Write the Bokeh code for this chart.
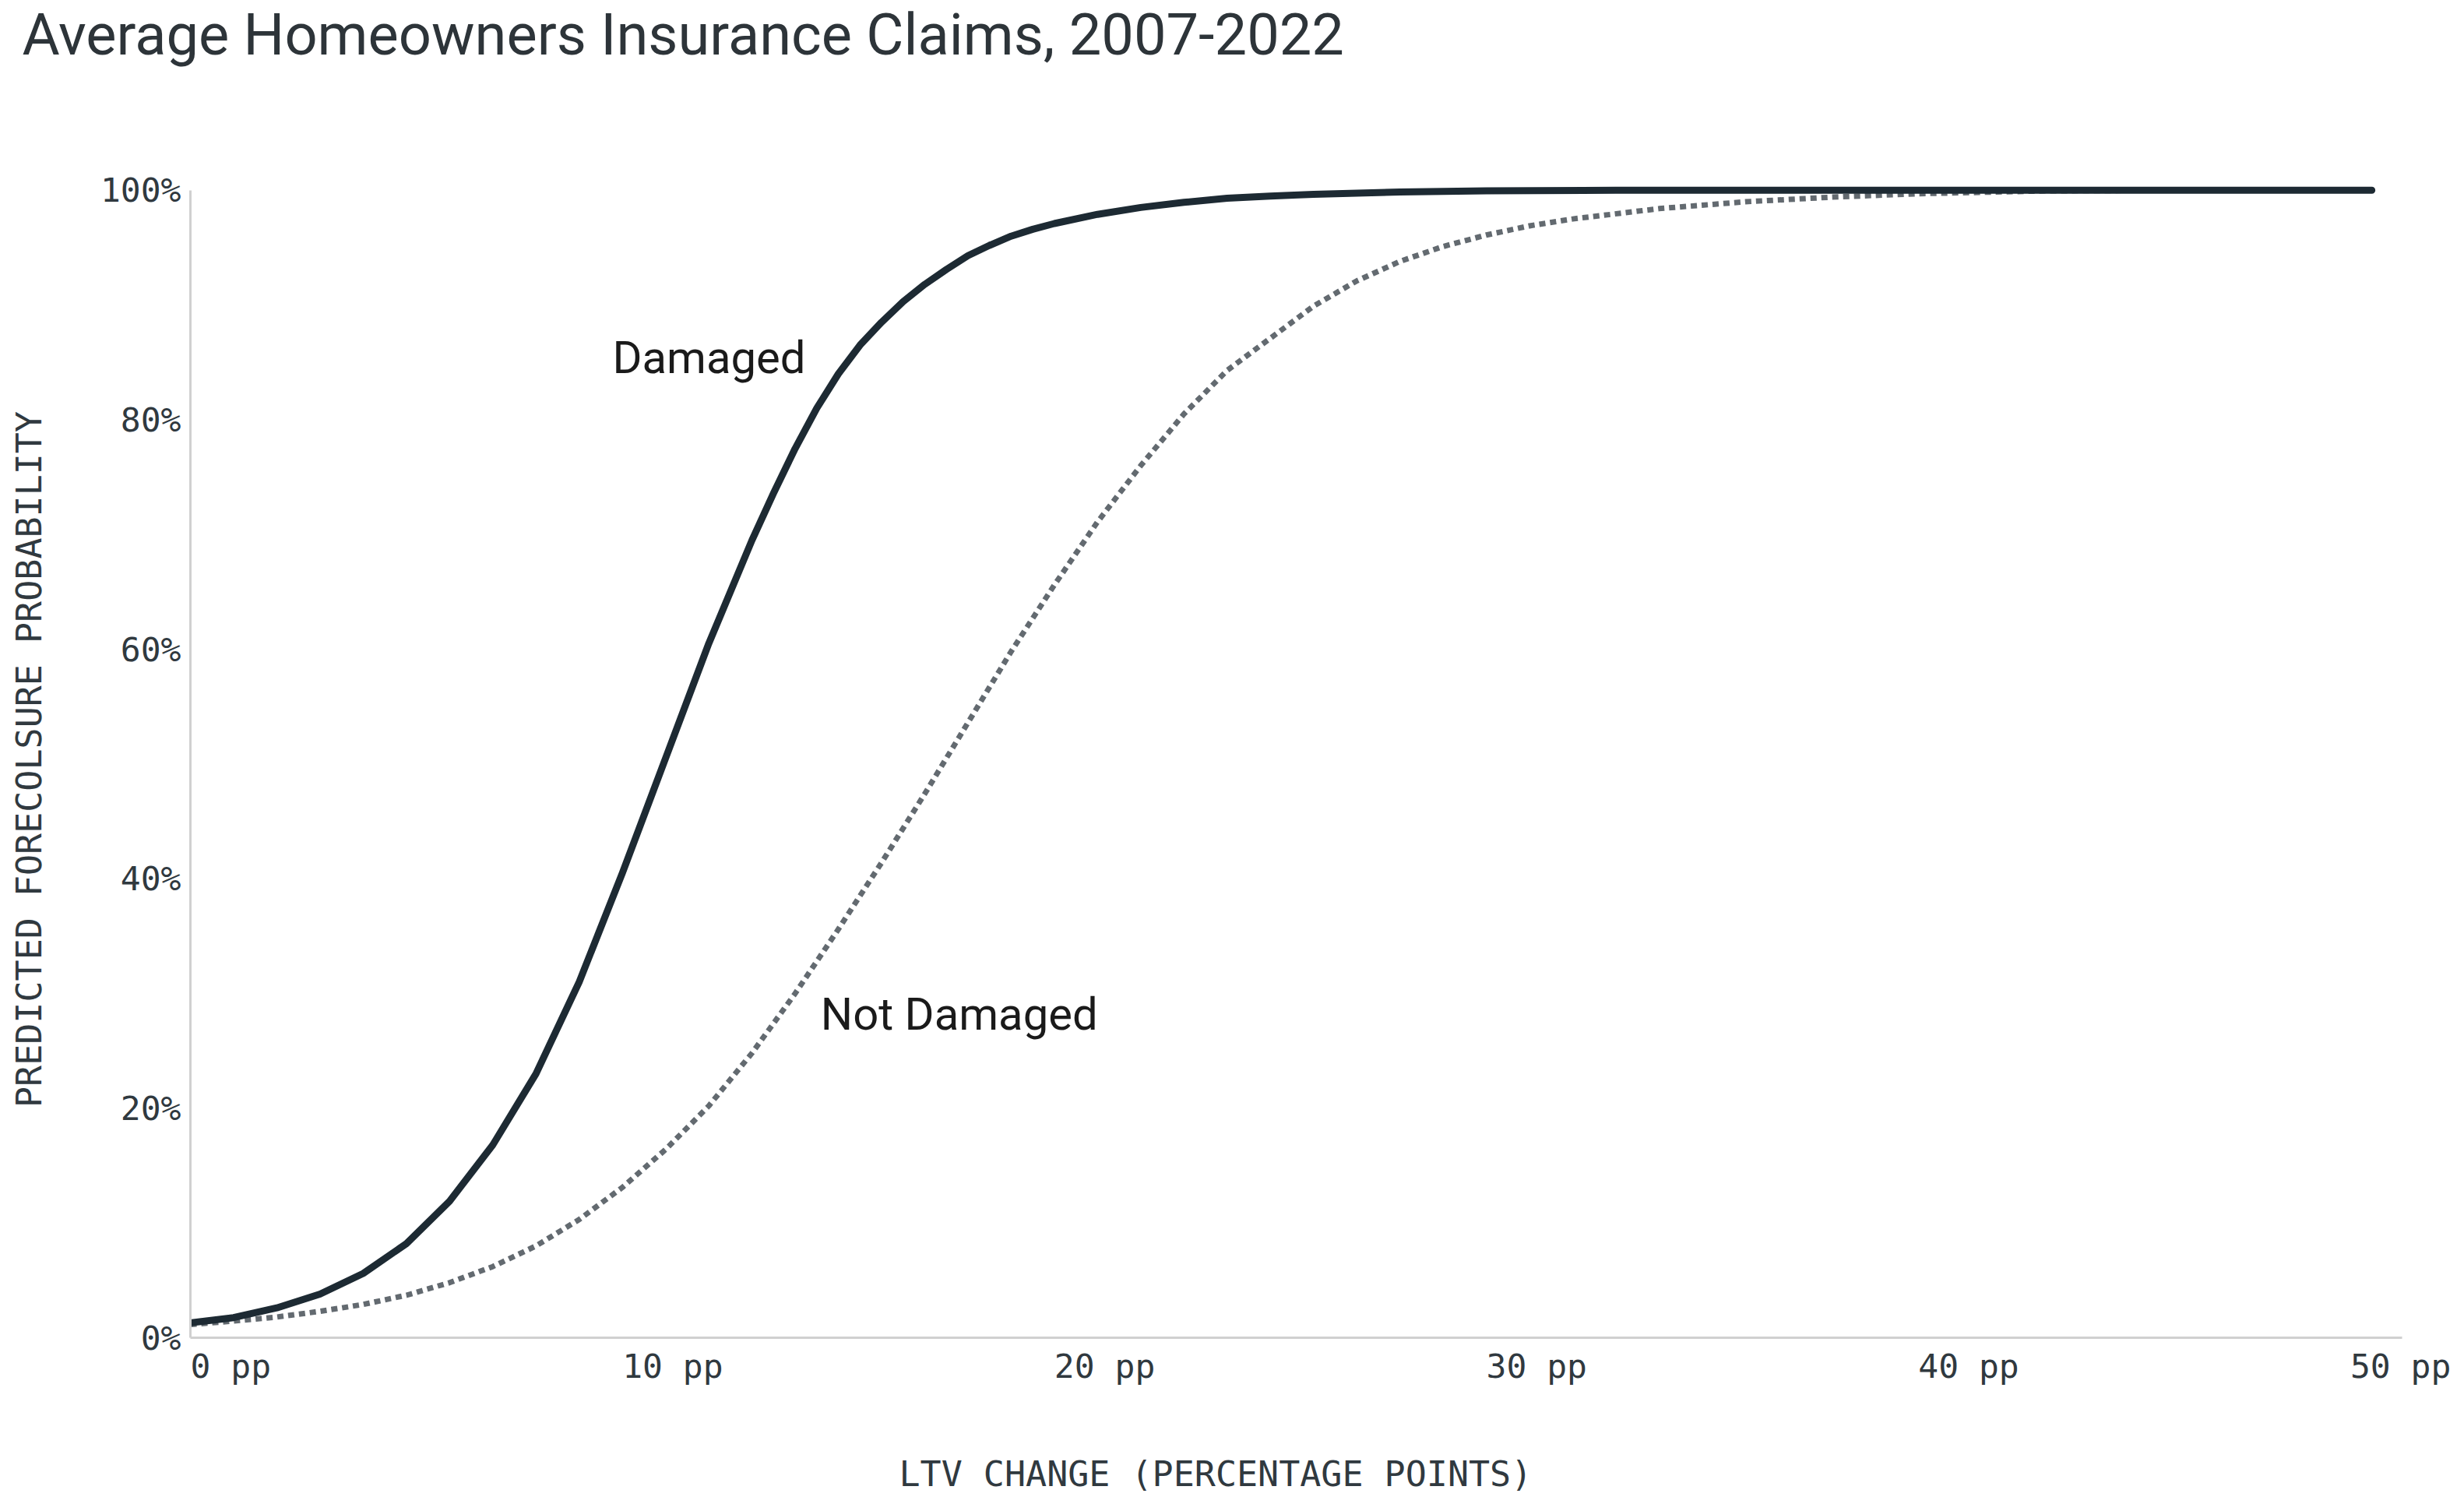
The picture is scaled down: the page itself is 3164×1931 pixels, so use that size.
from bokeh.plotting import figure
from bokeh.models import Range1d, Label, FixedTicker, CustomJSTickFormatter, Title
from bokeh.embed import file_html
from bokeh.resources import INLINE

TITLE = "Average Homeowners Insurance Claims, 2007-2022"
X_TITLE = "LTV CHANGE (PERCENTAGE POINTS)"
Y_TITLE = "PREDICTED FORECOLSURE PROBABILITY"

x_ticks = [0, 10, 20, 30, 40, 50]
y_ticks = [0, 20, 40, 60, 80, 100]

damaged_x = [0, 1, 2, 3, 4, 5, 6, 7, 8, 9, 10, 11, 12, 13, 13.5, 14, 14.5, 15, 15.5,
             16, 16.5, 17, 17.5, 18, 18.5, 19, 19.5, 20, 21, 22, 23, 24, 25, 26, 28,
             30, 33, 40, 50.5]
damaged_y = [1.3, 1.75, 2.6, 3.8, 5.6, 8.2, 11.9, 16.8, 23.0, 31.0, 40.5, 50.5, 60.5,
             69.5, 73.6, 77.5, 81.0, 84.0, 86.5, 88.5, 90.3, 91.8, 93.1, 94.3, 95.2,
             96.0, 96.6, 97.1, 97.9, 98.5, 98.95, 99.3, 99.5, 99.65, 99.85, 99.95, 100,
             100, 100]

not_damaged_x = [0, 1, 2, 3, 4, 5, 6, 7, 8, 9, 10, 11, 12, 13, 14, 15, 16, 17, 18, 19,
                 20, 21, 22, 23, 24, 25, 26, 27, 28, 29, 30, 31, 32, 34, 36, 38, 40,
                 43, 46, 50.5]
not_damaged_y = [1.15, 1.45, 1.8, 2.3, 2.9, 3.7, 4.8, 6.2, 8.0, 10.3, 13.1, 16.4, 20.2,
                 24.8, 30.0, 35.6, 41.4, 47.4, 53.6, 59.8, 65.6, 71.1, 76.0, 80.5, 84.3,
                 87.1, 89.9, 92.1, 93.8, 95.1, 96.1, 96.9, 97.5, 98.4, 99.0, 99.4, 99.7,
                 99.95, 100, 100]

W, H = 3148, 1925
p = figure(width=W, height=H, output_backend="svg", toolbar_location=None,
           x_range=Range1d(0, 51.2), y_range=Range1d(0, 100.8),
           min_border_left=244, min_border_right=64, min_border_top=0,
           min_border_bottom=208)
p.outline_line_color = None
p.background_fill_color = "white"
p.border_fill_color = "white"
p.xgrid.grid_line_color = None
p.ygrid.grid_line_color = None

mono = "DejaVu Sans Mono"
axis_col = "#d0d0d0"
text_col = "#30393f"

xa = p.xaxis[0]
xa.ticker = FixedTicker(ticks=x_ticks)
xa.formatter = CustomJSTickFormatter(
    code="const s = tick + ' pp'; return '\u00a0'.repeat(s.length) + s;")
xa.axis_line_color = axis_col
xa.axis_line_width = 3
xa.major_tick_line_color = None
xa.minor_tick_line_color = None
xa.major_tick_out = 0
xa.major_tick_in = 0
xa.minor_tick_out = 0
xa.major_label_text_font = mono
xa.major_label_text_font_size = "43px"
xa.major_label_text_color = text_col
xa.major_label_standoff = 11

ya = p.yaxis[0]
ya.ticker = FixedTicker(ticks=y_ticks)
ya.formatter = CustomJSTickFormatter(code="return tick + '%';")
ya.bounds = (0, 100)
ya.axis_line_color = axis_col
ya.axis_line_width = 3
ya.major_tick_line_color = None
ya.minor_tick_line_color = None
ya.major_tick_out = 0
ya.major_tick_in = 0
ya.minor_tick_out = 0
ya.major_label_text_font = mono
ya.major_label_text_font_size = "43px"
ya.major_label_text_color = text_col
ya.major_label_standoff = 12
ya.axis_label = Y_TITLE
ya.axis_label_text_font = mono
ya.axis_label_text_font_size = "45px"
ya.axis_label_text_font_style = "normal"
ya.axis_label_text_color = text_col
ya.axis_label_standoff = 62

# top stack: spacer (next to frame) then the chart title (outermost)
p.add_layout(Title(text="\u00a0", text_font_size="1px", standoff=140), "above")
p.add_layout(Title(text=TITLE, text_font="Roboto", text_font_size="74px",
                   text_font_style="normal", text_color="#2d3439",
                   align="left", offset=-216, vertical_align="top",
                   standoff=0), "above")

# bottom stack: axis, spacer, x-axis title
p.add_layout(Title(text="\u00a0", text_font_size="1px", standoff=88), "below")
p.add_layout(Title(text=X_TITLE, text_font=mono, text_font_size="45px",
                   text_font_style="normal", text_color=text_col,
                   align="left", offset=910, vertical_align="top",
                   standoff=-14), "below")

p.line(not_damaged_x, not_damaged_y, line_color="#636a70", line_width=7,
       line_dash="8 6", line_join="round")
p.line(damaged_x, damaged_y, line_color="#1d2a33", line_width=9, line_cap="round",
       line_join="round")

p.add_layout(Label(x=9.77, y=85.4, text="Damaged", text_font="Roboto",
                   text_font_size="58px", text_color="#1a1a1a",
                   text_baseline="middle", text_align="left"))
p.add_layout(Label(x=14.59, y=28.2, text="Not Damaged", text_font="Roboto",
                   text_font_size="58px", text_color="#1a1a1a",
                   text_baseline="middle", text_align="left"))

open("out.html", "w").write(file_html(p, INLINE))
